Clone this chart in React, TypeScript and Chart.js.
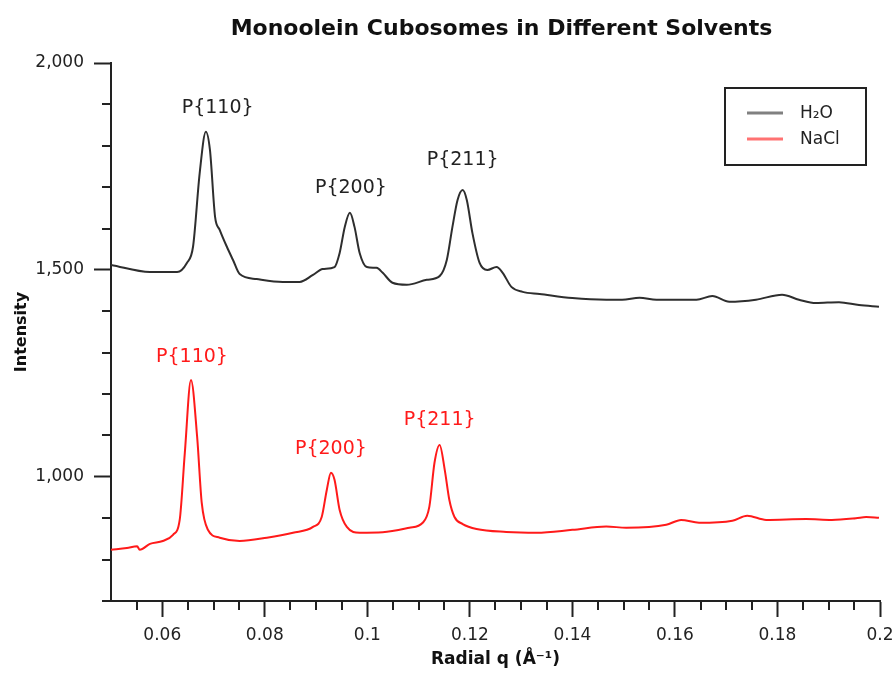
import React, { useEffect, useRef } from 'react';
import { Chart, registerables } from 'chart.js';

Chart.register(...registerables);

// ---- Data ----
const h2oQ = [
  0.05, 0.0576, 0.0629, 0.0648, 0.066, 0.0673, 0.0685, 0.0693, 0.0703, 0.0712,
  0.0726, 0.0738, 0.0751, 0.0784, 0.0835, 0.0868, 0.0894, 0.0913, 0.0936, 0.0946,
  0.0956, 0.0966, 0.0975, 0.0985, 0.0999, 0.1018, 0.103, 0.1049, 0.1077, 0.1116,
  0.1141, 0.1155, 0.1166, 0.1176, 0.1186, 0.1194, 0.1205, 0.1219, 0.1234, 0.1252,
  0.1264, 0.1281, 0.1303, 0.1336, 0.14, 0.1466, 0.1497, 0.1531, 0.1564, 0.1642,
  0.1673, 0.1706, 0.1758, 0.1809, 0.1842, 0.1875, 0.192, 0.1959, 0.1998,
];
const h2oI = [
  1512, 1495, 1495, 1517, 1556, 1734, 1834, 1790, 1628, 1597,
  1556, 1524, 1490, 1478, 1471, 1471, 1488, 1502, 1507, 1541,
  1604, 1638, 1604, 1541, 1507, 1505, 1493, 1469, 1464, 1476,
  1485, 1524, 1604, 1669, 1693, 1669, 1589, 1517, 1500, 1507,
  1493, 1459, 1447, 1442, 1432, 1428, 1428, 1433, 1428, 1428,
  1437, 1423, 1428, 1440, 1428, 1420, 1422, 1415, 1411,
];
const naclQ = [
  0.05, 0.0531, 0.0551, 0.0556, 0.0576, 0.0601, 0.0621, 0.0634, 0.0644, 0.0656,
  0.0668, 0.0677, 0.0689, 0.0712, 0.0751, 0.0804, 0.0855, 0.0894, 0.0911, 0.0921,
  0.0929, 0.0936, 0.0946, 0.096, 0.0985, 0.103, 0.1082, 0.1108, 0.1121, 0.1131,
  0.1141, 0.1151, 0.116, 0.117, 0.1186, 0.1213, 0.1271, 0.133, 0.14, 0.1466,
  0.1505, 0.1583, 0.1612, 0.1647, 0.1712, 0.1741, 0.1778, 0.1856, 0.1906, 0.1953,
  0.1973, 0.1998,
];
const naclI = [
  824, 828, 832, 824, 838, 845, 860, 896, 1058, 1234,
  1097, 937, 872, 853, 845, 853, 865, 879, 903, 969,
  1010, 993, 920, 879, 865, 866, 877, 889, 928, 1034,
  1077, 1017, 944, 903, 886, 874, 867, 865, 872, 880,
  877, 884, 896, 889, 894, 906, 896, 898, 896, 900,
  903, 901,
];

const seriesLabels = ['H\u2082O', 'NaCl'];
const peakNames = ['P{110}', 'P{200}', 'P{211}'];
const h2oPeakLabelQ = [0.0708, 0.0968, 0.1186];
const h2oPeakLabelI = [1891, 1698, 1766];
const naclPeakLabelQ = [0.0658, 0.0929, 0.1141];
const naclPeakLabelI = [1290, 1068, 1138];

const xMin = 0.05;
const xMax = 0.2;
const xStep = 0.005;
const xMajorStep = 0.02;
const yMin = 700;
const yMax = 2000;
const yStep = 100;
const yMajorStep = 500;

const titleText = 'Monoolein Cubosomes in Different Solvents';
const xTitle = 'Radial q (\u00C5\u207B\u00B9)';
const yTitle = 'Intensity';

// ---- Styles ----
const FONT = '"DejaVu Sans", Verdana, sans-serif';
const AXIS = '#222222';
const H2O_LINE = '#2e2e2e';
const NACL_LINE = '#ff1a1a';
const H2O_SWATCH = '#808080';
const NACL_SWATCH = '#ff7272';

const isMajorX = (v: number) =>
  v > xMin + 1e-9 && Math.abs(v / xMajorStep - Math.round(v / xMajorStep)) < 1e-6;
const isMajorY = (v: number) =>
  Math.abs(v / yMajorStep - Math.round(v / yMajorStep)) < 1e-6;

const decorPlugin = {
  id: 'decor',
  afterDraw(chart: any) {
    const { ctx, chartArea, scales } = chart;
    const xs = scales.x;
    const ys = scales.y;
    ctx.save();

    // title (centred over the plot area)
    ctx.font = `bold 22px ${FONT}`;
    ctx.fillStyle = '#111111';
    ctx.textAlign = 'center';
    ctx.textBaseline = 'middle';
    ctx.fillText(titleText, (chartArea.left + chartArea.right) / 2 + 6, 29);

    // minor ticks
    ctx.strokeStyle = AXIS;
    ctx.lineWidth = 2;
    ctx.beginPath();
    xs.ticks.forEach((t: any) => {
      if (!isMajorX(t.value) && t.value > xMin + 1e-9) {
        const px = Math.round(xs.getPixelForValue(t.value));
        ctx.moveTo(px, chartArea.bottom);
        ctx.lineTo(px, chartArea.bottom + 9);
      }
    });
    ys.ticks.forEach((t: any) => {
      if (!isMajorY(t.value)) {
        const py = Math.round(ys.getPixelForValue(t.value));
        ctx.moveTo(chartArea.left - 9, py);
        ctx.lineTo(chartArea.left, py);
      }
    });
    ctx.stroke();

    // peak labels
    ctx.font = `19px ${FONT}`;
    ctx.textAlign = 'center';
    ctx.textBaseline = 'middle';
    ctx.fillStyle = '#222222';
    peakNames.forEach((n, i) => {
      ctx.fillText(n, xs.getPixelForValue(h2oPeakLabelQ[i]), ys.getPixelForValue(h2oPeakLabelI[i]));
    });
    ctx.fillStyle = '#ff1a1a';
    peakNames.forEach((n, i) => {
      ctx.fillText(n, xs.getPixelForValue(naclPeakLabelQ[i]), ys.getPixelForValue(naclPeakLabelI[i]));
    });

    // legend
    const bx = chartArea.right - 155;
    const by = chartArea.top + 25;
    const bw = 141;
    const bh = 77;
    ctx.fillStyle = '#ffffff';
    ctx.fillRect(bx, by, bw, bh);
    ctx.strokeStyle = AXIS;
    ctx.lineWidth = 2;
    ctx.strokeRect(bx, by, bw, bh);
    const swatches = [H2O_SWATCH, NACL_SWATCH];
    ctx.font = `17px ${FONT}`;
    ctx.textAlign = 'left';
    ctx.textBaseline = 'middle';
    seriesLabels.forEach((lab, i) => {
      const yy = by + 25 + i * 26;
      ctx.strokeStyle = swatches[i];
      ctx.lineWidth = 3;
      ctx.beginPath();
      ctx.moveTo(bx + 22, yy);
      ctx.lineTo(bx + 58, yy);
      ctx.stroke();
      ctx.fillStyle = '#222222';
      ctx.fillText(lab, bx + 75, yy + 1);
    });
    ctx.restore();
  },
};

export default function App() {
  const ref = useRef<HTMLCanvasElement | null>(null);
  useEffect(() => {
    document.body.style.margin = '0';
    const canvas = ref.current;
    if (!canvas) return;
    const chart = new Chart(canvas, {
      type: 'line',
      data: {
        datasets: [
          {
            label: seriesLabels[0],
            data: h2oQ.map((q, i) => ({ x: q, y: h2oI[i] })),
            borderColor: H2O_LINE,
            borderWidth: 2,
            pointRadius: 0,
            cubicInterpolationMode: 'monotone',
          },
          {
            label: seriesLabels[1],
            data: naclQ.map((q, i) => ({ x: q, y: naclI[i] })),
            borderColor: NACL_LINE,
            borderWidth: 2,
            pointRadius: 0,
            cubicInterpolationMode: 'monotone',
          },
        ],
      },
      options: {
        responsive: false,
        animation: false,
        devicePixelRatio: 1,
        layout: { padding: { top: 63, right: 16, bottom: 0, left: 0 } },
        plugins: {
          legend: { display: false },
          tooltip: { enabled: false },
          title: { display: false },
        },
        scales: {
          x: {
            type: 'linear',
            min: xMin,
            max: xMax,
            afterFit: (s: any) => {
              s.height = 72;
              s.paddingRight = 0;
              s.paddingLeft = 0;
            },
            border: { display: true, color: AXIS, width: 2 },
            grid: {
              display: true,
              drawOnChartArea: false,
              tickLength: 16,
              tickWidth: 2,
              tickColor: (c: any) => (c.tick && isMajorX(c.tick.value) ? AXIS : 'rgba(0,0,0,0)'),
            },
            ticks: {
              stepSize: xStep,
              autoSkip: false,
              maxRotation: 0,
              padding: 8,
              color: '#222222',
              font: { family: FONT, size: 17 },
              callback: (v: any) => (isMajorX(Number(v)) ? String(Number(Number(v).toFixed(3))) : ''),
            },
            title: {
              display: true,
              text: xTitle,
              color: '#111111',
              font: { family: FONT, size: 17, weight: 'bold' },
              padding: { top: 0, bottom: 3 },
            },
          },
          y: {
            type: 'linear',
            min: yMin,
            max: yMax,
            afterFit: (s: any) => {
              s.width = 111;
            },
            border: { display: true, color: AXIS, width: 2 },
            grid: {
              display: true,
              drawOnChartArea: false,
              tickLength: 17,
              tickWidth: 2,
              tickColor: (c: any) => (c.tick && isMajorY(c.tick.value) ? AXIS : 'rgba(0,0,0,0)'),
            },
            ticks: {
              stepSize: yStep,
              autoSkip: false,
              padding: 10,
              color: '#222222',
              font: { family: FONT, size: 17 },
              callback: (v: any) => (isMajorY(Number(v)) ? Number(v).toLocaleString('en-US') : ''),
            },
            title: {
              display: true,
              text: yTitle,
              color: '#111111',
              font: { family: FONT, size: 16, weight: 'bold' },
              padding: { top: 12, bottom: 0 },
            },
          },
        },
      },
      plugins: [decorPlugin],
    });
    return () => chart.destroy();
  }, []);
  return (
    <div style={{ width: 896, height: 673 }}>
      <canvas ref={ref} width={896} height={673} style={{ display: 'block', width: 896, height: 673 }} />
    </div>
  );
}
